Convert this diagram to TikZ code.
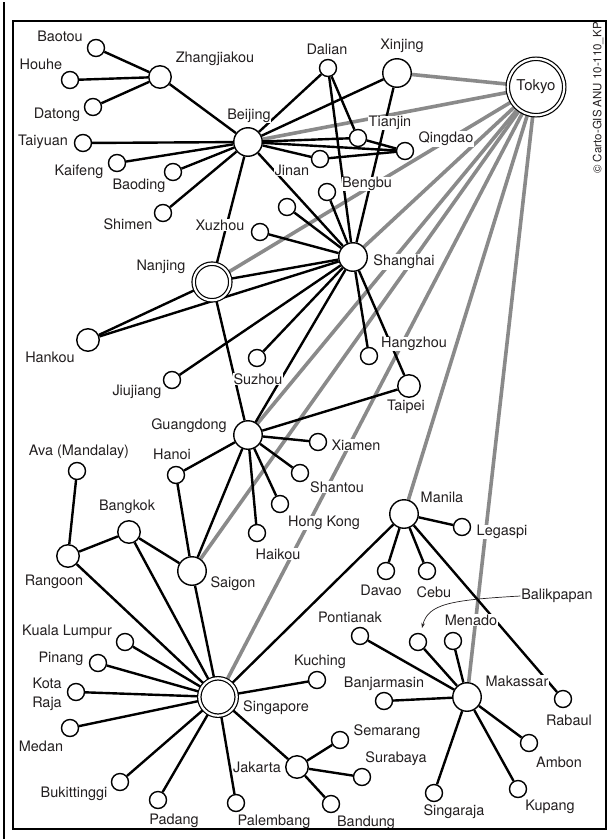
\documentclass[tikz,border=0pt]{standalone}
\usepackage{fontspec}
\setmainfont{TeX Gyre Heros}
\usetikzlibrary{backgrounds,arrows.meta}
\definecolor{edgegray}{RGB}{138,138,138}
\definecolor{txt}{RGB}{35,31,32}
\begin{document}
\begin{tikzpicture}[x=1bp,y=-1bp,
  city/.style={circle,draw=black,fill=white,line width=1.4bp,inner sep=0pt,minimum size=17bp},
  citym/.style={city,minimum size=22.5bp},
  cityl/.style={city,minimum size=28.5bp},
  cityd/.style={circle,draw=black,fill=white,line width=1.2bp,double=white,double distance=2.2bp,inner sep=0pt},
  lbl/.style={font=\fontsize{14.5}{19}\selectfont,text=txt,fill=white,inner sep=0.6bp},
  link/.style={line width=2.4bp,black},
  glink/.style={line width=3.6bp,edgegray},
]
\useasboundingbox (0,0) rectangle (612,839);
\node[rotate=90,font=\fontsize{11.5}{13}\selectfont,text=txt] (copy) at (598,98) {© Carto-GIS ANU 10-110\_KP};

% labels
\foreach \n/\x/\y/\t in {
 Baotou/60/36/Baotou, Houhe/41/64/Houhe, Datong/57/115/Datong, Zhangjiakou/215/59/Zhangjiakou,
 Beijing/249/116/Beijing, Taiyuan/43/142/Taiyuan, Kaifeng/79/172/Kaifeng, Baoding/139/186/Baoding,
 Shimen/128/224/Shimen, Jinan/292/170/Jinan, Dalian/327/49/Dalian, Xinjing/402/46/Xinjing,
 Tianjin/390/123/Tianjin, Qingdao/446/139/Qingdao, Bengbu/367/184/Bengbu, Xuzhou/220/225/Xuzhou,
 Nanjing/161/267/Nanjing, Shanghai/404/262/Shanghai, Hankou/50/357/Hankou, Jiujiang/137/392/Jiujiang,
 Suzhou/258/379/Suzhou, Hangzhou/414/344/Hangzhou, Taipei/406/407/Taipei, Guangdong/189/426/Guangdong,
 Xiamen/356/445/Xiamen, Shantou/337/487/Shantou, HongKong/324/523/Hong Kong, Haikou/278/554/Haikou,
 Hanoi/172/454/Hanoi, Ava/79/452/Ava (Mandalay), Bangkok/127/507/Bangkok, Rangoon/54/582/Rangoon,
 Saigon/233/584/Saigon, Manila/442/497/Manila, Legaspi/502/532/Legaspi, Davao/381/590/Davao,
 Cebu/434/592/Cebu, Balikpapan/557/596/Balikpapan, Pontianak/350/617/Pontianak, Menado/471/620/Menado,
 KualaLumpur/67/632/Kuala Lumpur, Pinang/61/659/Pinang, Kuching/320/662/Kuching,
 Singapore/276/708/Singapore, Banjarmasin/384/684/Banjarmasin, Makassar/517/681/Makassar,
 Rabaul/569/720/Rabaul, Medan/41/746/Medan, Semarang/387/732/Semarang, Surabaya/396/759/Surabaya,
 Ambon/559/762/Ambon, Jakarta/257/767/Jakarta, Bukittinggi/74/794/Bukittinggi, Singaraja/454/812/Singaraja,
 Kupang/550/807/Kupang, Padang/174/821/Padang, Palembang/274/822/Palembang, Bandung/366/823/Bandung}
 {\node[lbl] (l\n) at (\x,\y) {\t};}
\node[lbl,align=right] (lKotaRaja) at (47,694) {Kota\\Raja};

% small cities
\foreach \n/\x/\y in {
 Baotou/96/48, Houhe/70/80, Datong/93/107, Taiyuan/83/143, Kaifeng/117/163, Baoding/173/172,
 Shimen/163/213, Xuzhou/260/232, Unnamed/287/207, Dalian/328/68, Tianjin/358/138, Qingdao/405/151,
 Jinan/320/159, Bengbu/327/192, Jiujiang/172/380, Suzhou/257/358, Hangzhou/369/356,
 Xiamen/318/442, Shantou/300/473, HongKong/280/504, Haikou/257/533, Hanoi/176/475, Ava/77/471,
 Legaspi/462/527, Davao/386/571, Cebu/427/571, Pontianak/360/636, Balikpapan/418/642, Menado/453/641,
 Kuching/317/680, Banjarmasin/384/701, Rabaul/563/699, Semarang/340/740, Surabaya/362/777,
 Bandung/331/804, Ambon/529/743, Kupang/518/789, Singaraja/434/793,
 KualaLumpur/125/642, Pinang/98/663, KotaRaja/76/692, Medan/70/728, Bukittinggi/120/782,
 Padang/158/800, Palembang/236/803}
 {\node[city] (\n) at (\x,\y) {};}
% medium cities
\foreach \n/\x/\y in {Zhangjiakou/160/77, Hankou/88/340, Rangoon/68/556, Bangkok/129/532, Taipei/409/386, Jakarta/297/767}
 {\node[citym] (\n) at (\x,\y) {};}
% large cities
\foreach \n/\x/\y in {Beijing/248/142, Xinjing/397/73, Shanghai/353/257, Guangdong/248/435, Saigon/192/571, Manila/404/514, Makassar/467/697}
 {\node[cityl] (\n) at (\x,\y) {};}
% double-ring cities
\node[cityd,minimum size=56.4bp,font=\fontsize{15}{16}\selectfont,text=txt] (Tokyo) at (536,87) {Tokyo};
\node[cityd,minimum size=36.6bp] (Nanjing) at (212,282) {};
\node[cityd,minimum size=37.4bp] (Singapore) at (218,697) {};

% connectors
\begin{scope}[on background layer]
\foreach \b in {Xinjing,Beijing,Nanjing,Shanghai,Guangdong,Saigon,Singapore,Manila,Makassar}
 {\draw[glink] (Tokyo) -- (\b);}
\foreach \a/\b in {
 Zhangjiakou/Baotou, Zhangjiakou/Houhe, Zhangjiakou/Datong, Zhangjiakou/Beijing,
 Beijing/Taiyuan, Beijing/Kaifeng, Beijing/Baoding, Beijing/Shimen, Beijing/Nanjing, Beijing/Shanghai,
 Beijing/Jinan, Beijing/Tianjin, Beijing/Qingdao, Beijing/Dalian, Beijing/Xinjing,
 Dalian/Tianjin, Dalian/Shanghai, Xinjing/Shanghai, Tianjin/Qingdao, Jinan/Qingdao,
 Shanghai/Bengbu, Shanghai/Unnamed, Shanghai/Xuzhou, Shanghai/Nanjing, Shanghai/Hankou,
 Shanghai/Jiujiang, Shanghai/Suzhou, Shanghai/Guangdong, Shanghai/Hangzhou, Shanghai/Taipei,
 Nanjing/Hankou, Nanjing/Guangdong,
 Guangdong/Taipei, Guangdong/Xiamen, Guangdong/Shantou, Guangdong/HongKong, Guangdong/Haikou,
 Guangdong/Hanoi, Guangdong/Saigon,
 Hanoi/Saigon, Bangkok/Saigon, Rangoon/Bangkok, Ava/Rangoon,
 Singapore/Rangoon, Singapore/Bangkok, Singapore/Saigon, Singapore/Manila, Singapore/KualaLumpur,
 Singapore/Pinang, Singapore/KotaRaja, Singapore/Medan, Singapore/Bukittinggi, Singapore/Padang,
 Singapore/Palembang, Singapore/Jakarta, Singapore/Kuching,
 Jakarta/Semarang, Jakarta/Surabaya, Jakarta/Bandung,
 Manila/Legaspi, Manila/Davao, Manila/Cebu, Manila/Rabaul,
 Makassar/Pontianak, Makassar/Balikpapan, Makassar/Menado, Makassar/Banjarmasin,
 Makassar/Ambon, Makassar/Kupang, Makassar/Singaraja}
 {\draw[link] (\a) -- (\b);}
\end{scope}

% Balikpapan pointer
\coordinate (balarr) at (422,628);
\draw[line width=0.7bp,txt,-{Stealth[length=5bp,width=3.6bp]}] (lBalikpapan.west) .. controls (450,600) and (428,604) .. (balarr);

% frame (drawn last, on top)
\draw[line width=2.5bp] (4,2) -- (4,839);
\draw[line width=1.3bp] (13,21) rectangle (606,829);
\end{tikzpicture}
\end{document}
